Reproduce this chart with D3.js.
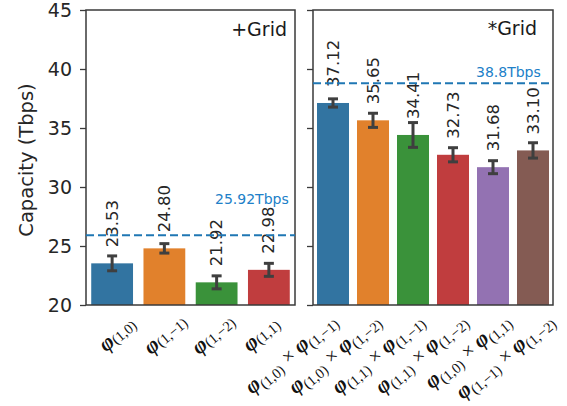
<!DOCTYPE html>
<html><head><meta charset="utf-8">
<script src="https://cdn.jsdelivr.net/npm/d3@7/dist/d3.min.js"></script>
<style>body{margin:0;background:#fff}</style>
</head><body><svg id="c" width="567" height="406"></svg>
<script>
// ---- data ----
const leftCats = ["(1,0)", "(1,−1)", "(1,−2)", "(1,1)"];
const leftValues = [23.53, 24.80, 21.92, 22.98];
const leftErr = [0.63, 0.40, 0.55, 0.55];
const rightCatsA = ["(1,0)", "(1,0)", "(1,1)", "(1,1)", "(1,0)", "(1,−1)"];
const rightCatsB = ["(1,−1)", "(1,−2)", "(1,−1)", "(1,−2)", "(1,1)", "(1,−2)"];
const rightValues = [37.12, 35.65, 34.41, 32.73, 31.68, 33.10];
const rightErr = [0.35, 0.60, 1.05, 0.60, 0.55, 0.65];
const yTicks = [20, 25, 30, 35, 40, 45];
const leftRef = 25.92, rightRef = 38.8;
const leftRefLabel = "25.92Tbps", rightRefLabel = "38.8Tbps";
const palette = ["#3274a1", "#e1812c", "#3a923a", "#c03d3e", "#9372b2", "#845b53"];

// ---- layout ----
const svg = d3.select("#c");
const plotTop = 10, plotBottom = 305;
const L = {x0: 86, x1: 295}, R = {x0: 313, x1: 553};
const y = d3.scaleLinear().domain([20, 45]).range([plotBottom, plotTop]);
const font = "'DejaVu Sans', sans-serif";
const serif = "'Liberation Serif', serif";
const spine = "#3a3a3a";

function panel(P, vals, errs, showLabels) {
  const idx = d3.range(vals.length);
  const x = d3.scaleBand().domain(idx).range([P.x0, P.x1]).paddingInner(0.2).paddingOuter(0.1);
  const g = svg.append("g");
  g.selectAll("rect.bar").data(idx).join("rect")
    .attr("x", i => x(i)).attr("width", x.bandwidth())
    .attr("y", i => y(vals[i])).attr("height", i => y(20) - y(vals[i]))
    .attr("fill", i => palette[i]);
  const cx = i => x(i) + x.bandwidth() / 2;
  // error bars
  const eg = g.selectAll("g.err").data(idx).join("g").attr("stroke", "#3f3f3f").attr("stroke-width", 3);
  eg.append("line").attr("x1", cx).attr("x2", cx)
    .attr("y1", i => y(vals[i] - errs[i])).attr("y2", i => y(vals[i] + errs[i]));
  [-1, 1].forEach(s => eg.append("line")
    .attr("x1", i => cx(i) - 5).attr("x2", i => cx(i) + 5)
    .attr("y1", i => y(vals[i] + s * errs[i])).attr("y2", i => y(vals[i] + s * errs[i])));
  // value labels
  g.selectAll("text.val").data(idx).join("text")
    .attr("transform", i => `translate(${cx(i)},${y(vals[i]) - 16}) rotate(-90)`)
    .attr("dominant-baseline", "central").attr("text-anchor", "start")
    .attr("font-family", font).attr("font-size", 16.5).attr("fill", "#262626")
    .text(i => vals[i].toFixed(2));
  // spines
  g.append("rect").attr("x", P.x0).attr("y", plotTop).attr("width", P.x1 - P.x0).attr("height", plotBottom - plotTop)
    .attr("fill", "none").attr("stroke", spine).attr("stroke-width", 1.5);
  // y ticks
  const yAxis = d3.axisLeft(y).tickValues(yTicks).tickSize(6).tickPadding(8)
    .tickFormat(showLabels ? d3.format("d") : () => "");
  const ag = g.append("g").attr("transform", `translate(${P.x0},0)`).call(yAxis);
  ag.select(".domain").remove();
  ag.selectAll(".tick line").attr("stroke", spine).attr("stroke-width", 1.3);
  ag.selectAll(".tick text").attr("font-family", font).attr("font-size", 19).attr("fill", "#262626");
  return x;
}

panel(L, leftValues, leftErr, true);
panel(R, rightValues, rightErr, false);

// reference lines
function refLine(P, v) {
  svg.append("line").attr("x1", P.x0).attr("x2", P.x1).attr("y1", y(v)).attr("y2", y(v))
    .attr("stroke", "#1f77b4").attr("stroke-width", 2).attr("stroke-dasharray", "8,4");
}
refLine(L, leftRef);
refLine(R, rightRef);
svg.append("text").attr("x", 215).attr("y", y(28.98)).attr("dominant-baseline", "central")
  .attr("font-family", font).attr("font-size", 14).attr("fill", "#2080c8").text(leftRefLabel);
svg.append("text").attr("x", 476).attr("y", y(39.76)).attr("dominant-baseline", "central")
  .attr("font-family", font).attr("font-size", 14).attr("fill", "#2080c8").text(rightRefLabel);

// panel titles
svg.append("text").attr("x", 287).attr("y", 29).attr("text-anchor", "end").attr("dominant-baseline", "central")
  .attr("font-family", font).attr("font-size", 19).attr("fill", "#1a1a1a").text("+Grid");
svg.append("text").attr("x", 537).attr("y", 28).attr("text-anchor", "end").attr("dominant-baseline", "central")
  .attr("font-family", font).attr("font-size", 19).attr("fill", "#1a1a1a").text("*Grid");

// y axis label
svg.append("text").attr("transform", `translate(26,160) rotate(-90)`).attr("text-anchor", "middle")
  .attr("dominant-baseline", "central").attr("font-family", font).attr("font-size", 19.5).attr("fill", "#262626")
  .text("Capacity (Tbps)");

// x tick labels
function phi(t, sub) {
  t.append("tspan").attr("font-style", "italic").attr("font-weight", "bold").attr("font-size", 22).text("φ");
  t.append("tspan").attr("font-size", 14.5).attr("dy", 4).text(sub);
  t.append("tspan").attr("font-size", 14.5).attr("dy", -4).text("\u200a");
}
const lpos = d3.scalePoint().domain(d3.range(leftCats.length)).range([117, 261]);
leftCats.forEach((c, i) => {
  const t = svg.append("text").attr("transform", `translate(${lpos(i)},333) rotate(-40)`)
    .attr("text-anchor", "middle").attr("dominant-baseline", "central")
    .attr("font-family", serif).attr("fill", "#111");
  phi(t, c);
});
const rpos = d3.scalePoint().domain(d3.range(rightCatsA.length)).range([339, 556]);
rightCatsA.forEach((c, i) => {
  const t = svg.append("text").attr("transform", `translate(${rpos(i)},322) rotate(-40)`)
    .attr("text-anchor", "end")
    .attr("font-family", serif).attr("fill", "#111");
  phi(t, c);
  t.append("tspan").attr("font-size", 20).text(" × ");
  phi(t, rightCatsB[i]);
});
</script></body></html>
